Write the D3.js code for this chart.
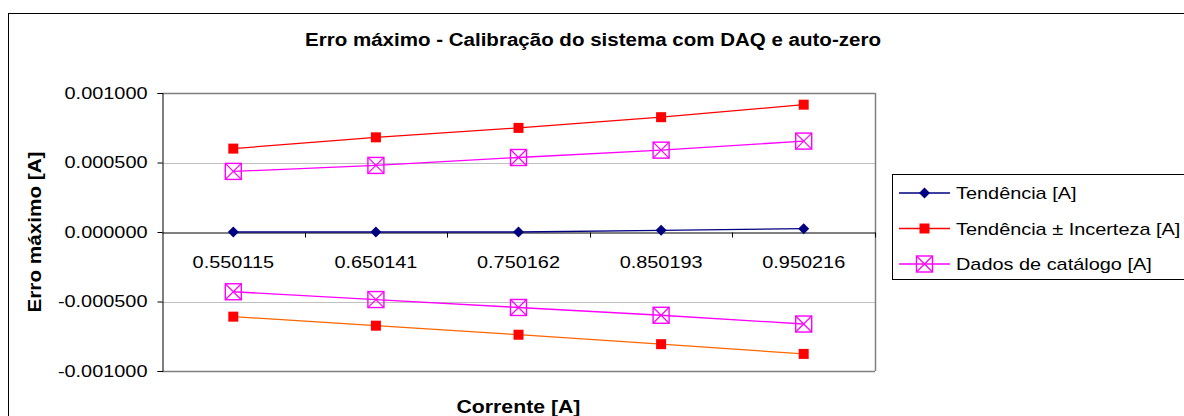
<!DOCTYPE html>
<html>
<head>
<meta charset="utf-8">
<script src="https://cdn.jsdelivr.net/npm/d3@7"></script>
<style>
  body { margin: 0; background: #fff; }
  svg { display: block; font-family: "Liberation Sans", Arial, sans-serif; }
</style>
</head>
<body>
<svg id="chart" width="1184" height="416"></svg>
<script>
const categories = ["0.550115", "0.650141", "0.750162", "0.850193", "0.950216"];
const yTicks = [-0.001, -0.0005, 0, 0.0005, 0.001];

const tendencia = [0, 0, 0, 0.000012, 0.000024];
const tendMaisIncerteza = [0.000600, 0.000681, 0.000749, 0.000826, 0.000916];
const tendMenosIncerteza = [-0.000609, -0.000674, -0.000739, -0.000807, -0.000877];
const catalogoSup = [0.000436, 0.000479, 0.000536, 0.000589, 0.000654];
const catalogoInf = [-0.000430, -0.000486, -0.000543, -0.000599, -0.000662];

const svg = d3.select("#chart");
const margin = { top: 93, right: 309, bottom: 45, left: 162 };
const width = 1184, height = 416;
const plotRight = width - margin.right;
const plotBottom = height - margin.bottom;

const fmt = d3.formatLocale({ decimal: ".", thousands: ",", grouping: [3], currency: ["", ""], minus: "-" }).format(".6f");

// the original text is a bit wider than Arial at its height
function stretch(sel, k) {
  sel.each(function () {
    const w = this.getComputedTextLength();
    d3.select(this).attr("textLength", w * k).attr("lengthAdjust", "spacingAndGlyphs");
  });
}

// outer chart border
svg.append("rect")
  .attr("x", 8.5).attr("y", 13.5)
  .attr("width", 1200).attr("height", 420)
  .attr("fill", "#fff").attr("stroke", "#000").attr("stroke-width", 1);

const x = d3.scaleBand()
  .domain(categories)
  .range([margin.left, plotRight])
  .padding(0);

const y = d3.scaleLinear()
  .domain([-0.001, 0.001])
  .range([plotBottom, margin.top]);

const cx = d => x(d) + x.bandwidth() / 2;

// grid lines
svg.append("g").selectAll("line")
  .data(yTicks.filter(v => v !== 0))
  .enter().append("line")
  .attr("x1", margin.left).attr("x2", plotRight)
  .attr("y1", d => Math.round(y(d)) + 0.5).attr("y2", d => Math.round(y(d)) + 0.5)
  .attr("stroke", d => Math.abs(d) === 0.001 ? "#808080" : "#c0c0c0")
  .attr("stroke-width", d => Math.abs(d) === 0.001 ? 1.5 : 1);

// right border of plot
svg.append("line")
  .attr("x1", plotRight + 0.5).attr("x2", plotRight + 0.5)
  .attr("y1", y(0.001)).attr("y2", y(-0.001))
  .attr("stroke", "#808080").attr("stroke-width", 1.5);

// y axis
const yAxis = svg.append("g")
  .attr("transform", `translate(${margin.left + 0.5},0)`)
  .call(d3.axisLeft(y).tickValues(yTicks).tickFormat(fmt).tickSize(5).tickPadding(10));
yAxis.select(".domain").attr("stroke", "#000");
yAxis.selectAll(".tick text")
  .style("font-size", "17px")
  .style("font-family", "Liberation Sans, Arial, sans-serif")
  .attr("fill", "#000")
  .call(stretch, 1.17);

// x axis through zero
const xAxis = svg.append("g")
  .attr("transform", `translate(0,${Math.round(y(0)) + 0.5})`)
  .call(d3.axisBottom(x).tickSize(0).tickPadding(23));
xAxis.select(".domain").attr("stroke", "#000");
xAxis.selectAll(".tick text")
  .style("font-size", "17px")
  .style("font-family", "Liberation Sans, Arial, sans-serif")
  .attr("fill", "#000")
  .call(stretch, 1.17);
xAxis.selectAll(".boundary")
  .data(categories)
  .enter().append("line")
  .attr("x1", d => Math.round(x(d) + x.bandwidth()) + 0.5)
  .attr("x2", d => Math.round(x(d) + x.bandwidth()) + 0.5)
  .attr("y1", 0).attr("y2", 5)
  .attr("stroke", "#000");

// series
const series = [
  { name: "tend", values: tendencia, line: "#000080", marker: "diamond", fill: "#000080" },
  { name: "sup", values: tendMaisIncerteza, line: "#ff0000", marker: "square", fill: "#ff0000" },
  { name: "inf", values: tendMenosIncerteza, line: "#ff6600", marker: "square", fill: "#ff0000" },
  { name: "catSup", values: catalogoSup, line: "#ff00ff", marker: "boxx", fill: "#ff00ff" },
  { name: "catInf", values: catalogoInf, line: "#ff00ff", marker: "boxx", fill: "#ff00ff" }
];

const line = d3.line()
  .x((d, i) => cx(categories[i]))
  .y(d => y(d));

function drawMarker(g, type, color, px, py) {
  if (type === "diamond") {
    g.append("path")
      .attr("d", `M${px},${py - 5.5}L${px + 5.5},${py}L${px},${py + 5.5}L${px - 5.5},${py}Z`)
      .attr("fill", color);
  } else if (type === "square") {
    g.append("rect")
      .attr("x", px - 5).attr("y", py - 5)
      .attr("width", 10).attr("height", 10)
      .attr("fill", color);
  } else {
    const s = 8;
    g.append("rect")
      .attr("x", px - s).attr("y", py - s)
      .attr("width", 2 * s).attr("height", 2 * s)
      .attr("fill", "none").attr("stroke", color).attr("stroke-width", 1.4);
    g.append("path")
      .attr("d", `M${px - s},${py - s}L${px + s},${py + s}M${px + s},${py - s}L${px - s},${py + s}`)
      .attr("stroke", color).attr("stroke-width", 1.2);
  }
}

series.forEach(s => {
  const g = svg.append("g");
  g.append("path")
    .datum(s.values)
    .attr("d", line)
    .attr("fill", "none")
    .attr("stroke", s.line)
    .attr("stroke-width", 1.3);
  s.values.forEach((v, i) => drawMarker(g, s.marker, s.fill, cx(categories[i]), y(v)));
});

// titles
svg.append("text")
  .attr("x", 593).attr("y", 46)
  .attr("text-anchor", "middle")
  .style("font-size", "18px").style("font-weight", "bold")
  .text("Erro máximo - Calibração do sistema com DAQ e auto-zero")
  .call(stretch, 1.14);

svg.append("text")
  .attr("transform", `translate(41,${(margin.top + plotBottom) / 2}) rotate(-90)`)
  .attr("text-anchor", "middle")
  .style("font-size", "18px").style("font-weight", "bold")
  .text("Erro máximo [A]")
  .call(stretch, 1.15);

svg.append("text")
  .attr("x", (margin.left + plotRight) / 2).attr("y", 413)
  .attr("text-anchor", "middle")
  .style("font-size", "18px").style("font-weight", "bold")
  .text("Corrente [A]")
  .call(stretch, 1.18);

// legend
const legendItems = [
  { label: "Tendência [A]", line: "#000080", marker: "diamond", fill: "#000080" },
  { label: "Tendência ± Incerteza [A]", line: "#ff0000", marker: "square", fill: "#ff0000" },
  { label: "Dados de catálogo [A]", line: "#ff00ff", marker: "boxx", fill: "#ff00ff" }
];
const legend = svg.append("g");
legend.append("rect")
  .attr("x", 892.5).attr("y", 174.5)
  .attr("width", 320).attr("height", 105)
  .attr("fill", "#fff").attr("stroke", "#000");
legendItems.forEach((d, i) => {
  const ly = 193 + i * 35.5;
  const g = legend.append("g");
  g.append("line")
    .attr("x1", 899).attr("x2", 950)
    .attr("y1", ly).attr("y2", ly)
    .attr("stroke", d.line).attr("stroke-width", 1.3);
  drawMarker(g, d.marker, d.fill, 924.5, ly);
  g.append("text")
    .attr("x", 956).attr("y", ly + 6)
    .style("font-size", "17px")
    .text(d.label)
    .call(stretch, 1.17);
});
</script>
</body>
</html>
